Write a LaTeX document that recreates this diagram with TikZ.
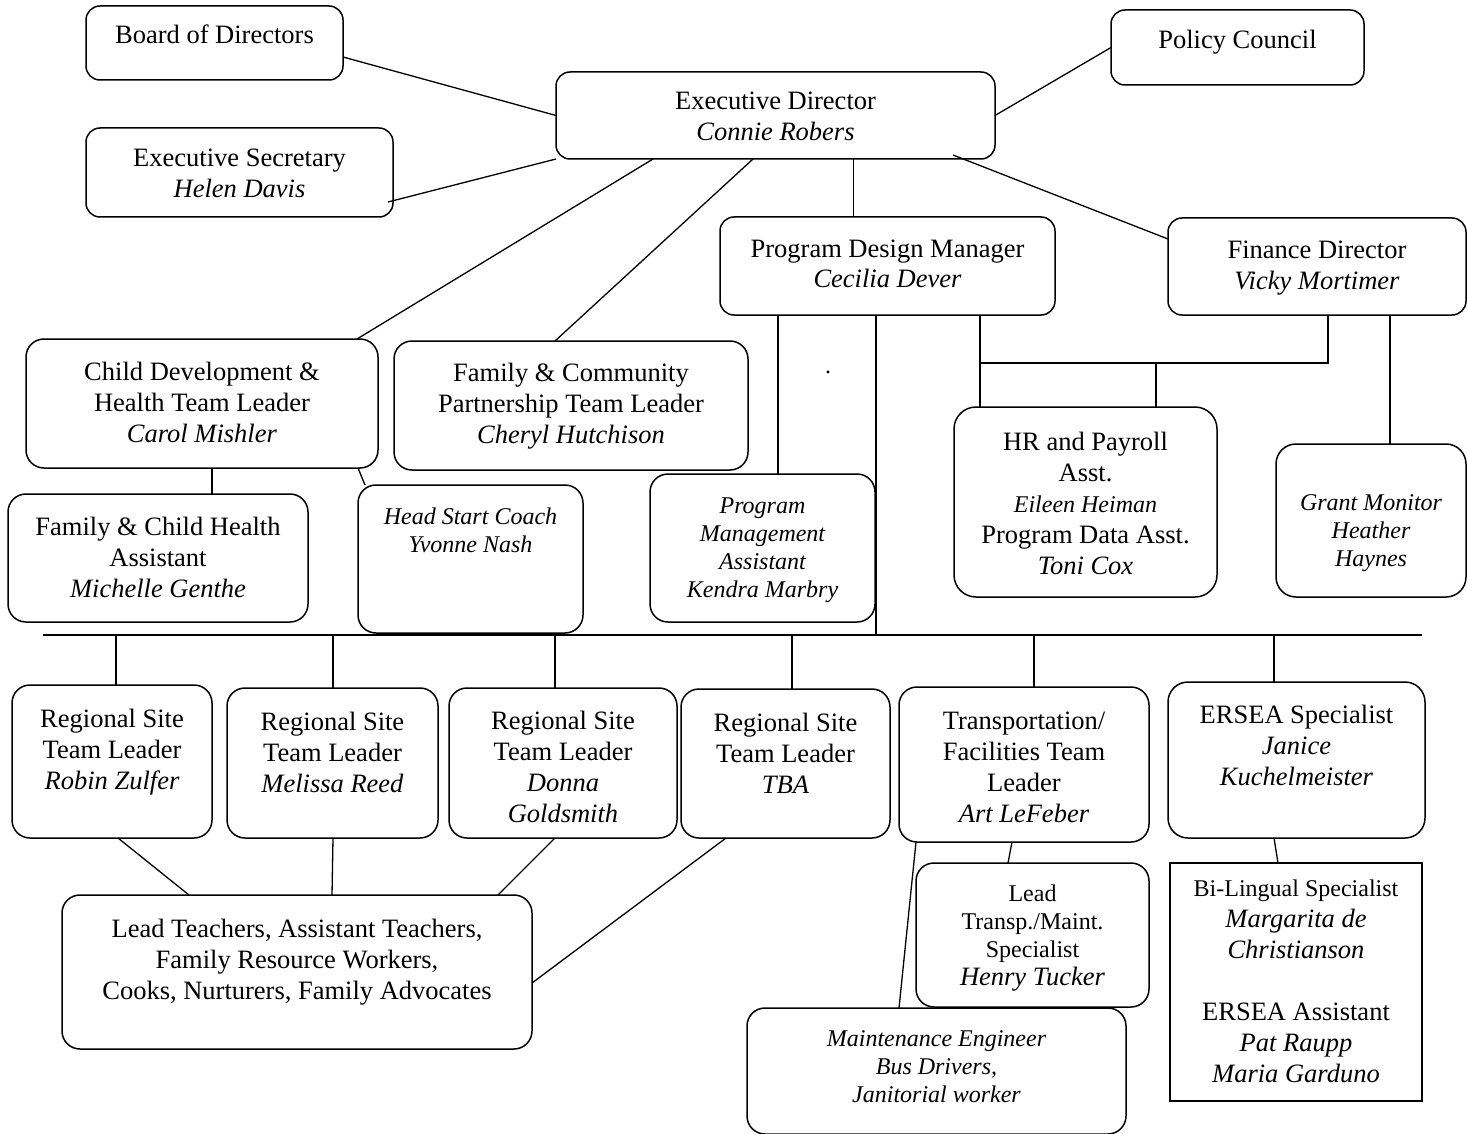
\documentclass[tikz,border=0pt]{standalone}
\usepackage{fontspec}
\setmainfont{Liberation Serif}
\newcommand\nmf{\fontsize{26.5pt}{31pt}\selectfont}
\newcommand\smf{\fontsize{24pt}{28pt}\selectfont}
% #1 shape opts, #2 name, #3 x1, #4 y1, #5 x2, #6 y2, #7 first baseline offset, #8 text
\newcommand\obox[8][rounded corners=14pt]{%
  \pgfmathsetmacro\bw{#5-#3}%
  \pgfmathsetmacro\bh{#6-#4}%
  \node[box,#1,minimum width=\bw pt,minimum height=\bh pt] (#2) at ({(#3+#5)/2},{(#4+#6)/2})
    {\parbox[c][\bh pt][t]{\bw pt}{\centering\rule{0pt}{#7pt}#8\par}};%
}
\begin{document}
\begin{tikzpicture}[x=1pt,y=-1pt,
  box/.style={draw,line width=1.5pt,inner sep=0pt,outer sep=0pt,font=\nmf},
  conn/.style={line width=1.3pt}]
\useasboundingbox (0,0) rectangle (1467,1134);
\clip (0,0) rectangle (1467,1134);

% boxes
\obox{board}{86}{6}{343}{80}{38}{Board of Directors}
\obox{policy}{1111}{10}{1364}{85}{39}{Policy Council}
\obox{exec}{556}{72}{995}{159}{38}{Executive Director\\\textit{Connie Robers}}
\obox{sec}{86}{128}{393}{217}{39}{Executive Secretary\\\textit{Helen Davis}}
\obox{pdm}{720}{217}{1055}{315}{40}{Program Design Manager\\\textit{Cecilia Dever}}
\obox{fin}{1168}{218}{1466}{315}{40}{Finance Director\\\textit{Vicky Mortimer}}
\obox[rounded corners=18pt]{child}{26}{339}{378}{468}{41}{Child Development \&\\Health Team Leader\\\textit{Carol Mishler}}
\obox[rounded corners=18pt]{fam}{394}{341}{748}{470}{40}{Family \& Community\\Partnership Team Leader\\\textit{Cheryl Hutchison}}
\obox[rounded corners=22pt]{hr}{954}{407}{1217}{597}{43}{HR and Payroll\\Asst.\\{\smf\itshape Eileen Heiman}\\Program Data Asst.\\\textit{Toni Cox}}
\obox[rounded corners=20pt]{grant}{1276}{444}{1466}{597}{66}{\smf\itshape Grant Monitor\\Heather\\Haynes}
\obox[rounded corners=18pt]{fch}{8}{494}{308}{622}{41}{Family \& Child Health\\Assistant\\\textit{Michelle Genthe}}
\obox[rounded corners=18pt]{hsc}{358}{485}{583}{633}{39}{\smf\itshape Head Start Coach\\Yvonne Nash}
\obox[rounded corners=18pt]{pma}{650}{474}{875}{622}{39}{\smf\itshape Program\\Management\\Assistant\\Kendra Marbry}
\obox[rounded corners=18pt]{r1}{12}{685}{212}{838}{42}{Regional Site\\Team Leader\\\textit{Robin Zulfer}}
\obox[rounded corners=18pt]{r2}{227}{688}{438}{838}{42}{Regional Site\\Team Leader\\\textit{Melissa Reed}}
\obox[rounded corners=18pt]{r3}{449}{688}{677}{838}{41}{Regional Site\\Team Leader\\\textit{Donna}\\\textit{Goldsmith}}
\obox[rounded corners=18pt]{r4}{681}{689}{890}{838}{42}{Regional Site\\Team Leader\\\textit{TBA}}
\obox[rounded corners=18pt]{tr}{899}{687}{1149}{842}{42}{Transportation/\\Facilities Team\\Leader\\\textit{Art LeFeber}}
\obox[rounded corners=20pt]{ersea}{1168}{682}{1425}{838}{41}{ERSEA Specialist\\\textit{Janice}\\\textit{Kuchelmeister}}
\obox[rounded corners=18pt]{lt}{62}{895}{532}{1049}{42}{Lead Teachers, Assistant Teachers,\\Family Resource Workers,\\Cooks, Nurturers, Family Advocates}
\obox[rounded corners=18pt]{ltr}{916}{863}{1149}{1007}{38}{\smf Lead\\Transp./Maint.\\Specialist\\{\nmf\itshape Henry Tucker}}
\obox[rounded corners=18pt]{mnt}{747}{1008}{1126}{1134}{38}{\smf\itshape Maintenance Engineer\\Bus Drivers,\\Janitorial worker}
\obox[sharp corners]{bil}{1170}{863}{1422}{1101}{33}{{\smf Bi-Lingual Specialist}\\\textit{Margarita de}\\\textit{Christianson}\\[31pt]ERSEA Assistant\\\textit{Pat Raupp}\\\textit{Maria Garduno}}

\node[font=\smf,inner sep=0pt] (dot) at (828,372) {.};

% bus
\coordinate (busL) at (43,635);
\coordinate (busR) at (1422,635);
\draw[conn] (busL) -- (busR);

% top connectors
\draw[conn] ([yshift=-14pt]board.east) -- (exec.west);
\draw[conn] ([xshift=-5pt,yshift=-29.5pt]sec.east) -- (exec.south west);
\draw[conn] (policy.west) -- (exec.east);
\draw[conn] ([xshift=-42pt,yshift=4pt]exec.south east) -- ([yshift=-21pt]fin.north west);
\draw[conn] ([xshift=78pt]exec.south) -- ([xshift=78pt]exec.south |- pdm.north);
\draw[conn] ([xshift=-122.5pt]exec.south) -- ([xshift=-21pt]child.north east);
\draw[conn] ([xshift=-22.5pt]exec.south) -- ([xshift=-16pt]fam.north);

% program design manager
\draw[conn] ([xshift=-109.5pt]pdm.south) -- ([xshift=-109.5pt]pdm.south |- pma.north);
\draw[conn] ([xshift=-11.5pt]pdm.south) -- ([xshift=-11.5pt]pdm.south |- busL);
\draw[conn] ([xshift=92.5pt]pdm.south) -- ([xshift=92.5pt]pdm.south |- hr.north);

% finance
\coordinate (fj) at ([xshift=11pt,yshift=-48pt]fin.south);
\draw[conn] ([xshift=11pt]fin.south) -- (fj) -- ([xshift=92.5pt]pdm.south |- fj);
\draw[conn] ([xshift=70.5pt]hr.north) -- ([xshift=70.5pt]hr.north |- fj);
\draw[conn] ([xshift=73pt]fin.south) -- ([xshift=73pt]fin.south |- grant.north);

% child development
\draw[conn] ([xshift=10pt]child.south) -- ([xshift=10pt]child.south |- fch.north);
\draw[conn] ([xshift=-20pt]child.south east) -- ([xshift=7pt]hsc.north west);

% drops from bus
\draw[conn] ([xshift=4pt]r1.north) -- ([xshift=4pt]r1.north |- busL);
\draw[conn] ([xshift=0.5pt]r2.north) -- ([xshift=0.5pt]r2.north |- busL);
\draw[conn] ([xshift=-8pt]r3.north) -- ([xshift=-8pt]r3.north |- busL);
\draw[conn] ([xshift=6.5pt]r4.north) -- ([xshift=6.5pt]r4.north |- busL);
\draw[conn] ([xshift=10pt]tr.north) -- ([xshift=10pt]tr.north |- busL);
\draw[conn] ([xshift=-22.5pt]ersea.north) -- ([xshift=-22.5pt]ersea.north |- busL);

% regional to staff
\draw[conn] ([xshift=6pt]r1.south) -- ([xshift=127pt]lt.north west);
\draw[conn] ([xshift=0.5pt]r2.south) -- ([xshift=35pt]lt.north);
\draw[conn] ([xshift=-8pt]r3.south) -- ([xshift=-34pt]lt.north east);
\draw[conn] ([xshift=-59.5pt]r4.south) -- ([yshift=-11pt]lt.east);

% transportation
\draw[conn] ([xshift=-12pt]tr.south) -- ([xshift=-24.5pt]ltr.north);
\draw[conn] ([xshift=17pt]tr.south west) -- ([xshift=152pt]mnt.north west);

% ERSEA
\draw[conn] ([xshift=-22.5pt]ersea.south) -- ([xshift=-18pt]bil.north);
\end{tikzpicture}
\end{document}
